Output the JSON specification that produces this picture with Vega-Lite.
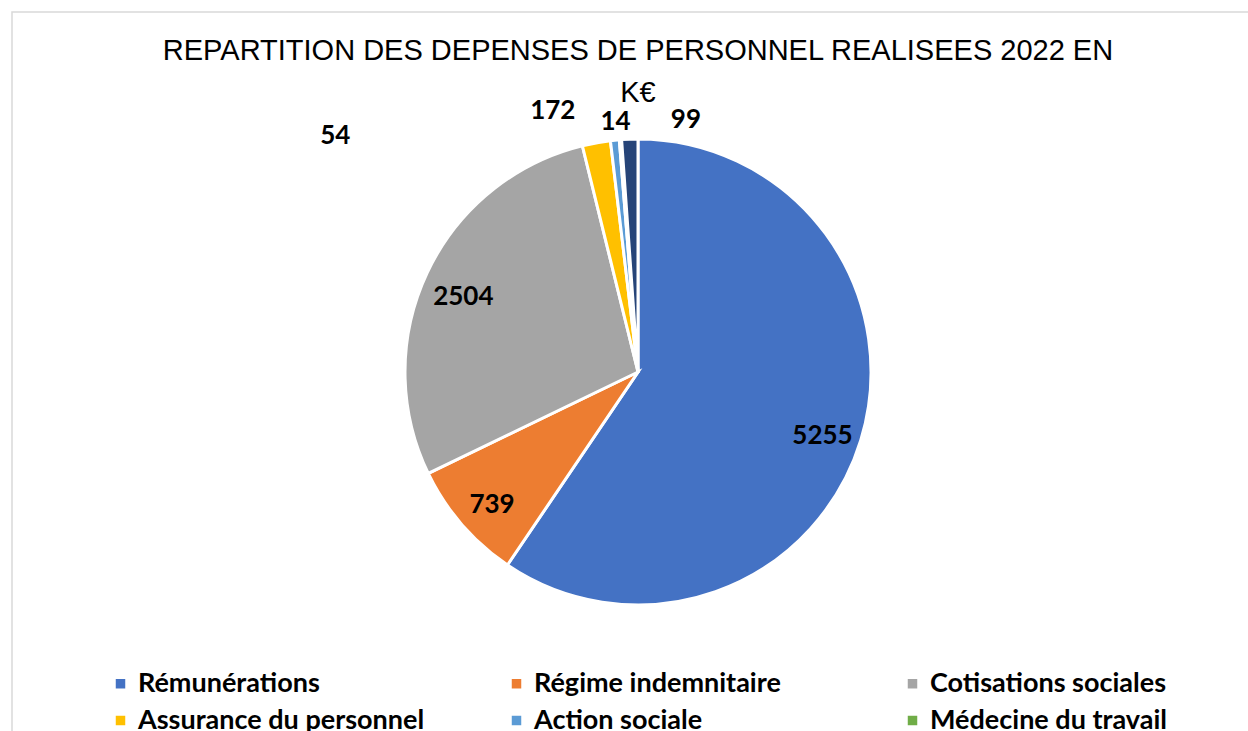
{
  "$schema": "https://vega.github.io/schema/vega-lite/v6.json",
  "autosize": "none",
  "padding": {"left": 12, "top": 12, "right": 0, "bottom": 0},
  "width": 1252,
  "height": 720,
  "background": "white",
  "config": {
    "view": {"stroke": null},
    "text": {"font": "Lato"}
  },
  "title": {
    "text": ["REPARTITION DES DEPENSES DE PERSONNEL REALISEES 2022 EN", "K€"],
    "font": "Liberation Sans",
    "fontSize": 29,
    "fontWeight": "normal",
    "color": "#000000",
    "anchor": "middle",
    "lineHeight": 42,
    "offset": -97
  },
  "datasets": {
    "depenses": [
      {"poste": "Rémunérations", "montant": 5255, "rang": 1},
      {"poste": "Régime indemnitaire", "montant": 739, "rang": 2},
      {"poste": "Cotisations sociales", "montant": 2504, "rang": 3},
      {"poste": "Assurance du personnel", "montant": 172, "rang": 4},
      {"poste": "Action sociale", "montant": 54, "rang": 5},
      {"poste": "Médecine du travail", "montant": 14, "rang": 6},
      {"poste": "Autres dépenses", "montant": 99, "rang": 7}
    ],
    "cadre": [{"cadre": 1}]
  },
  "data": {"name": "depenses"},
  "layer": [
    {
      "data": {"name": "cadre"},
      "mark": {"type": "rect", "fill": null, "stroke": "#d9d9d9", "strokeWidth": 1.5},
      "encoding": {}
    },
    {
      "mark": {"type": "arc", "outerRadius": 233, "stroke": "white", "strokeWidth": 3},
      "encoding": {
        "theta": {"field": "montant", "type": "quantitative", "stack": true},
        "order": {"field": "rang", "type": "quantitative"},
        "color": {
          "field": "poste",
          "type": "nominal",
          "sort": ["Rémunérations", "Régime indemnitaire", "Cotisations sociales", "Assurance du personnel", "Action sociale", "Médecine du travail", "Autres dépenses"],
          "scale": {
            "domain": ["Rémunérations", "Régime indemnitaire", "Cotisations sociales", "Assurance du personnel", "Action sociale", "Médecine du travail", "Autres dépenses"],
            "range": ["#4472C4", "#ED7D31", "#A5A5A5", "#FFC000", "#5B9BD5", "#70AD47", "#264478"]
          },
          "legend": {
            "title": null,
            "orient": "none",
            "legendX": 95,
            "legendY": 658,
            "direction": "horizontal",
            "columns": 3,
            "gridAlign": "all",
            "columnPadding": 78,
            "rowPadding": 9,
            "symbolType": "square",
            "symbolSize": 90,
            "symbolStrokeWidth": 0,
            "symbolOffset": 0,
            "labelFont": "Lato",
            "labelFontSize": 27,
            "labelFontWeight": "bold",
            "labelColor": "#000000",
            "labelOffset": 4,
            "labelLimit": 400
          }
        }
      }
    },
    {
      "mark": {"type": "text", "radius": 193, "fontSize": 26, "fontWeight": "bold", "color": "#000000", "dy": 7},
      "encoding": {
        "theta": {"field": "montant", "type": "quantitative", "stack": true},
        "order": {"field": "rang", "type": "quantitative"},
        "text": {"condition": {"test": "datum.montant > 500", "field": "montant", "type": "quantitative"}, "value": ""}
      }
    },
    {
      "mark": {"type": "text", "radius": 258, "fontSize": 26, "fontWeight": "bold", "color": "#000000", "dx": -39, "dy": -7},
      "encoding": {
        "theta": {"field": "montant", "type": "quantitative", "stack": true},
        "order": {"field": "rang", "type": "quantitative"},
        "text": {"condition": {"test": "datum.rang == 4", "field": "montant", "type": "quantitative"}, "value": ""}
      }
    },
    {
      "mark": {"type": "text", "radius": 258, "fontSize": 26, "fontWeight": "bold", "color": "#000000", "dx": -277, "dy": 21},
      "encoding": {
        "theta": {"field": "montant", "type": "quantitative", "stack": true},
        "order": {"field": "rang", "type": "quantitative"},
        "text": {"condition": {"test": "datum.rang == 5", "field": "montant", "type": "quantitative"}, "value": ""}
      }
    },
    {
      "mark": {"type": "text", "radius": 258, "fontSize": 26, "fontWeight": "bold", "color": "#000000", "dx": -3, "dy": 7},
      "encoding": {
        "theta": {"field": "montant", "type": "quantitative", "stack": true},
        "order": {"field": "rang", "type": "quantitative"},
        "text": {"condition": {"test": "datum.rang == 6", "field": "montant", "type": "quantitative"}, "value": ""}
      }
    },
    {
      "mark": {"type": "text", "radius": 258, "fontSize": 26, "fontWeight": "bold", "color": "#000000", "dx": 57, "dy": 6},
      "encoding": {
        "theta": {"field": "montant", "type": "quantitative", "stack": true},
        "order": {"field": "rang", "type": "quantitative"},
        "text": {"condition": {"test": "datum.rang == 7", "field": "montant", "type": "quantitative"}, "value": ""}
      }
    }
  ]
}
